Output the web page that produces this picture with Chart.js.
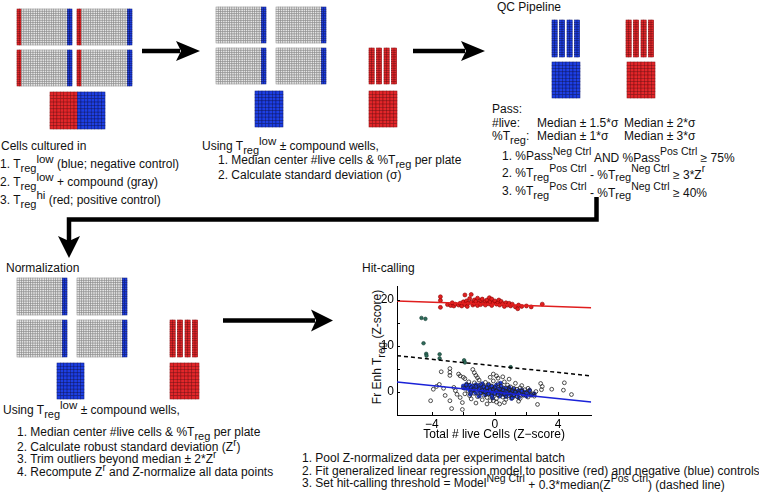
<!DOCTYPE html>
<html>
<head>
<meta charset="utf-8">
<script src="https://cdn.jsdelivr.net/npm/chart.js@4/dist/chart.umd.min.js"></script>
<style>
  body { margin: 0; background: #fff; }
  #wrap { position: relative; width: 759px; height: 493px; overflow: hidden; background: #fff;
          font-family: 'Liberation Sans', Arial, Helvetica, sans-serif; font-size: 12px; color: #111; }
  #diagram { position: absolute; left: 0; top: 0; }
  .t { position: absolute; white-space: nowrap; line-height: 14px; }
  .sb { position: relative; top: 4px; font-size: 11px; }
  .sp { position: relative; top: -5px; font-size: 11.5px; }
  .sc { position: relative; top: -5px; font-size: 10.5px; }
  .sr { position: relative; top: -5px; font-size: 10px; }
  .lo { position: relative; top: 2px; }
  #ytitle { position: absolute; left: 312px; top: 340px; width: 130px; text-align: center;
            transform: rotate(-90deg); white-space: nowrap; line-height: 14px; }
  #plot { position: absolute; left: 370px; top: 276px; width: 226px; height: 166px; }
</style>
</head>
<body>
<div id="wrap">
  <svg id="diagram" width="759" height="493"></svg>

  <!-- step 1 -->
  <div class="t" style="left:1px;top:139px">Cells cultured in</div>
  <div class="t" style="left:0px;top:157px">1. T<span class="sb">reg</span><span class="sp">low</span> (blue; negative control)</div>
  <div class="t" style="left:0px;top:175px">2. T<span class="sb">reg</span><span class="sp">low</span> + compound (gray)</div>
  <div class="t" style="left:0px;top:193px">3. T<span class="sb">reg</span><span class="sp">hi</span> (red; positive control)</div>

  <!-- step 2 -->
  <div class="t" style="left:202px;top:139px">Using T<span class="sb">reg</span><span class="sp">low</span> ± compound wells,</div>
  <div class="t" style="left:218px;top:153px">1. Median center #live cells &amp; %T<span class="sb">reg</span> per plate</div>
  <div class="t" style="left:218px;top:168px">2. Calculate standard deviation (σ)</div>

  <!-- QC -->
  <div class="t" style="left:497px;top:0px">QC Pipeline</div>
  <div class="t" style="left:492px;top:102px">Pass:</div>
  <div class="t" style="left:492px;top:116px">#live:</div>
  <div class="t" style="left:537px;top:116px">Median ± 1.5*σ</div>
  <div class="t" style="left:624px;top:116px">Median ± 2*σ</div>
  <div class="t" style="left:492px;top:129px">%T<span class="sb">reg</span>:</div>
  <div class="t" style="left:537px;top:129px">Median ± 1*σ</div>
  <div class="t" style="left:624px;top:129px">Median ± 3*σ</div>
  <div class="t" style="left:502px;top:149px">1. %Pass<span class="sc">Neg Ctrl</span> <span class="lo">AND %Pass</span><span class="sc">Pos Ctrl</span> <span class="lo">≥ 75%</span></div>
  <div class="t" style="left:502px;top:166px">2. %T<span class="sb">reg</span><span class="sc">Pos Ctrl</span> <span class="lo">- %T</span><span class="sb">reg</span><span class="sc">Neg Ctrl</span> <span class="lo">≥ 3*Z</span><span class="sr">r</span></div>
  <div class="t" style="left:502px;top:184px">3. %T<span class="sb">reg</span><span class="sc">Pos Ctrl</span> <span class="lo">- %T</span><span class="sb">reg</span><span class="sc">Neg Ctrl</span> <span class="lo">≥ 40%</span></div>

  <!-- normalization -->
  <div class="t" style="left:6px;top:261px">Normalization</div>
  <div class="t" style="left:3px;top:403px">Using T<span class="sb">reg</span><span class="sp">low</span> ± compound wells,</div>
  <div class="t" style="left:17px;top:425px">1. Median center #live cells &amp; %T<span class="sb">reg</span> per plate</div>
  <div class="t" style="left:17px;top:440px">2. Calculate robust standard deviation (Z<span class="sr">r</span>)</div>
  <div class="t" style="left:17px;top:452px">3. Trim outliers beyond median ± 2*Z<span class="sr">r</span></div>
  <div class="t" style="left:17px;top:465px">4. Recompute Z<span class="sr">r</span> and Z-normalize all data points</div>

  <!-- hit-calling -->
  <div class="t" style="left:362px;top:261px">Hit-calling</div>
  <div id="ytitle">Fr Enh T<span class="sb">reg</span> (Z-score)</div>
  <div id="plot"><canvas id="hitChart" width="226" height="166"></canvas></div>
  <div class="t" style="left:302px;top:451px">1. Pool Z-normalized data per experimental batch</div>
  <div class="t" style="left:302px;top:464px">2. Fit generalized linear regression model to positive (red) and negative (blue) controls</div>
  <div class="t" style="left:302px;top:476px">3. Set hit-calling threshold = Model<span class="sc">Neg Ctrl</span> <span class="lo">+ 0.3*median(Z</span><span class="sc">Pos Ctrl</span><span class="lo">) (dashed line)</span></div>
</div>

<script>
/* ── Hit-calling scatter data ─────────────────────────────────────────────── */

const xTicks = [-4, -2, 0, 2, 4];
const xLabelled = [-4, 0, 4];
const yTicks = [0, 5, 10, 15, 20];
const yLabelled = [0, 10, 20];

// regression / threshold lines, sampled at the two ends of the x range
const fitX = [-6.2, 6.1];
const posFitY = [19.8, 18.3];
const negFitY = [2.2, -2.2];
const thresholdY = [7.9, 3.5];

// positive controls (red)
const posCtrl = [
  [-3.45, 20.7], [-3.45, 19.9], [-3.45, 18.4], [-3.0, 19.0], [-2.8, 18.8], [-2.7, 19.4],
  [-2.6, 18.7], [-2.5, 19.1], [-2.3, 18.9], [-2.2, 19.3], [-2.1, 18.7], [-2.0, 19.6],
  [-1.9, 21.1], [-1.9, 19.0], [-1.8, 19.8], [-1.75, 18.6], [-1.7, 19.3], [-1.6, 20.3],
  [-1.5, 21.2], [-1.5, 19.5], [-1.4, 18.9], [-1.3, 20.0], [-1.3, 19.2], [-1.2, 19.7],
  [-1.1, 20.4], [-1.1, 18.8], [-1.0, 19.4], [-0.9, 19.9], [-0.9, 19.0], [-0.8, 20.2],
  [-0.7, 19.3], [-0.6, 19.7], [-0.6, 18.9], [-0.5, 20.0], [-0.4, 19.2], [-0.35, 20.5],
  [-0.3, 19.6], [-0.2, 20.2], [-0.2, 18.8], [-0.1, 19.4], [0.0, 19.8], [0.1, 19.1],
  [0.2, 19.5], [0.25, 20.0], [0.3, 18.9], [0.4, 19.7], [0.5, 19.2], [0.6, 18.6],
  [0.7, 19.4], [0.8, 18.9], [0.9, 19.3], [1.0, 18.7], [1.1, 19.1], [1.3, 18.5],
  [1.45, 18.1], [1.5, 18.9], [1.7, 18.6], [2.0, 18.7], [2.3, 18.5], [3.0, 19.1]
];

// compounds above the threshold (dark green)
const hits = [
  [-4.65, 16.1], [-4.4, 15.9], [-4.52, 10.6], [-4.35, 8.3], [-4.33, 7.9],
  [-3.5, 8.2], [-3.5, 7.3], [-1.95, 6.9], [-1.9, 6.4], [1.0, 5.4]
];

// negative controls (blue)
const negCtrl = [
  [-2.0, 1.3], [-1.9, 0.8], [-1.8, 1.7], [-1.7, 1.0], [-1.6, 0.4], [-1.6, 1.5], [-1.55, -0.5],
  [-1.5, 0.9], [-1.4, 1.3], [-1.4, 0.2], [-1.3, 0.7], [-1.2, 1.6], [-1.2, -0.2], [-1.1, 1.0],
  [-1.0, 0.4], [-1.0, 1.4], [-1.0, -0.9], [-0.9, -0.1], [-0.9, 0.9], [-0.8, 1.8], [-0.8, 0.5],
  [-0.7, 0.0], [-0.7, 1.2], [-0.6, 0.6], [-0.6, -0.6], [-0.5, 1.0], [-0.5, 0.2], [-0.4, 1.5],
  [-0.4, -0.3], [-0.3, 0.7], [-0.3, 0.1], [-0.2, 1.2], [-0.2, -0.7], [-0.15, -1.3], [-0.1, 0.4],
  [-0.1, -0.1], [0.0, 0.9], [0.0, -0.4], [0.1, 0.3], [0.1, 1.5], [0.2, -0.2], [0.2, 0.7],
  [0.3, 0.0], [0.3, -0.9], [0.35, 1.9], [0.4, 0.5], [0.4, 1.1], [0.5, -0.5], [0.5, 0.2],
  [0.6, 0.8], [0.6, -0.2], [0.7, 0.3], [0.7, -1.0], [0.8, 0.6], [0.8, -0.4], [0.9, 0.0],
  [0.9, 1.0], [1.0, -0.7], [1.0, 0.4], [1.05, -1.4], [1.1, -0.1], [1.2, 0.6], [1.2, -0.9],
  [1.3, 0.1], [1.4, -0.4], [1.5, 0.3], [1.5, -1.2], [1.6, -0.2], [1.7, 0.4], [1.8, -0.6],
  [1.9, 0.0], [2.0, -0.9], [2.1, -0.3], [2.2, 0.4], [2.3, -0.7], [2.5, -0.4]
];

// compound wells below the threshold (open black circles)
const compounds = [
  [-4.07, -1.9], [-3.9, 0.6], [-3.7, 1.2], [-3.52, 1.65], [-3.4, 4.4], [-3.25, 0.8], [-3.15, -0.75],
  [-2.85, -1.9], [-2.85, 5.1], [-2.85, 4.3], [-2.85, 3.6], [-2.74, -3.6], [-2.6, 1.0], [-2.5, 0.3],
  [-2.4, -0.5], [-2.3, 3.9], [-2.2, 3.5], [-2.2, -1.2], [-2.06, -3.8], [-2.06, -2.3], [-2.0, 3.2],
  [-2.0, 0.9], [-1.9, 2.9], [-1.9, -0.4], [-1.8, 1.5], [-1.7, 0.2], [-1.65, 2.2], [-1.6, -0.8],
  [-1.5, 1.0], [-1.5, -1.5], [-1.4, 4.9], [-1.4, 0.5], [-1.3, 4.2], [-1.3, 2.0], [-1.3, -0.3],
  [-1.2, 3.6], [-1.2, 1.2], [-1.2, -2.4], [-1.1, -1.0], [-1.1, 3.1], [-1.0, 0.7], [-1.0, 2.6],
  [-0.9, -0.2], [-0.9, 1.6], [-0.8, -1.7], [-0.8, 0.3], [-0.7, 1.1], [-0.7, -0.7], [-0.6, 2.1],
  [-0.6, 0.0], [-0.5, -1.2], [-0.5, 0.9], [-0.5, -2.6], [-0.4, 1.7], [-0.4, -0.4], [-0.3, 0.4],
  [-0.3, -1.9], [-0.3, 3.2], [-0.2, 1.3], [-0.2, -0.9], [-0.1, 0.6], [-0.1, 2.4], [-0.1, 3.9],
  [-0.1, -1.9], [0.0, -0.3], [0.0, 1.0], [0.1, -1.4], [0.1, 0.2], [0.1, 3.5], [0.1, -2.2],
  [0.2, 1.8], [0.2, -0.6], [0.2, 3.0], [0.3, 0.7], [0.3, -2.6], [0.4, -0.1], [0.4, 1.3],
  [0.5, -1.1], [0.5, 0.4], [0.5, 3.3], [0.6, 2.2], [0.6, -0.5], [0.6, -2.3], [0.7, 0.9],
  [0.7, -1.6], [0.8, 0.1], [0.8, 1.5], [0.9, -0.8], [0.9, 0.5], [0.9, 2.8], [1.0, -0.2],
  [1.0, 1.1], [1.1, -1.3], [1.1, 0.3], [1.2, 0.8], [1.2, -0.6], [1.3, 1.9], [1.3, 0.0],
  [1.4, -1.0], [1.4, 0.6], [1.5, -0.3], [1.5, -2.0], [1.6, 0.9], [1.6, -1.4], [1.7, 0.2],
  [1.7, 1.4], [1.8, -0.7], [1.9, 0.5], [2.0, -0.2], [2.1, -1.1], [2.1, 0.8], [2.2, 0.3],
  [2.3, -0.55], [2.4, -0.4], [2.5, -0.9], [2.6, 0.1], [2.7, -2.7], [2.9, 1.85], [2.95, 0.5],
  [3.0, 1.2], [3.6, 0.6], [4.34, 0.4], [4.4, 2.0], [4.85, -0.55]
];

/* ── Flow diagram: plates and arrows (SVG) ───────────────────────────────── */

const PAL = {
  g: { fill: '#e6e6e6', line: '#8e8e8e' },
  r: { fill: '#e3262a', line: '#8a1012' },
  b: { fill: '#1d3fe4', line: '#0c1a78' }
};

function plate(x, y, w, h, cols, rows, colourOf) {
  const cw = w / cols, rh = h / rows;
  let s = '';
  for (let c = 0; c < cols; c++) {
    const p = PAL[colourOf(c)];
    for (let r = 0; r < rows; r++) {
      s += `<rect x="${(x + c * cw).toFixed(2)}" y="${(y + r * rh).toFixed(2)}" width="${cw.toFixed(2)}" height="${rh.toFixed(2)}" fill="${p.fill}" stroke="${p.line}" stroke-width="0.55"/>`;
    }
  }
  return s;
}

// four control strips (2 columns x 16 rows each)
function strips(x, y, h, col) {
  let s = '';
  for (let i = 0; i < 4; i++) s += plate(x + i * 7.5, y, 5.2, h, 2, 16, () => col);
  return s;
}

function arrowRight(x1, x2, y, len, hh) {
  return `<line x1="${x1}" y1="${y}" x2="${x2 - len + 4}" y2="${y}" stroke="#000" stroke-width="4.5"/>` +
    `<polygon points="${x2},${y} ${x2 - len},${y - hh} ${x2 - len + 5},${y} ${x2 - len},${y + hh}" fill="#000"/>`;
}

const full384 = c => (c < 2 ? 'r' : c > 21 ? 'b' : 'g');
const noPos = c => (c > 19 ? 'b' : 'g');

let svg = '';
// step 1
svg += plate(17, 9, 55, 36, 24, 16, full384) + plate(77, 9, 55, 36, 24, 16, full384);
svg += plate(17, 50, 55, 36, 24, 16, full384) + plate(77, 50, 55, 36, 24, 16, full384);
svg += plate(50, 92, 55, 37, 16, 11, c => (c < 8 ? 'r' : 'b'));
// step 2
svg += plate(216, 7, 50, 36, 22, 16, noPos) + plate(276, 7, 50, 36, 22, 16, noPos);
svg += plate(216, 48, 50, 36, 22, 16, noPos) + plate(276, 48, 50, 36, 22, 16, noPos);
svg += plate(255, 91, 28, 36, 8, 11, () => 'b');
svg += strips(369, 48, 36, 'r');
svg += plate(369, 91, 28, 36, 8, 11, () => 'r');
// QC
svg += strips(552, 20, 37, 'b') + plate(552, 62, 28, 36, 8, 11, () => 'b');
svg += strips(626, 20, 37, 'r') + plate(627, 62, 28, 36, 8, 11, () => 'r');
// normalization
svg += plate(17, 278, 50, 37, 22, 16, noPos) + plate(77, 278, 50, 37, 22, 16, noPos);
svg += plate(17, 320, 50, 37, 22, 16, noPos) + plate(77, 320, 50, 37, 22, 16, noPos);
svg += plate(57, 363, 27, 36, 8, 11, () => 'b');
svg += strips(170, 320, 37, 'r');
svg += plate(170, 363, 29, 36, 8, 11, () => 'r');
// arrows
svg += arrowRight(142, 200, 51, 24, 10);
svg += arrowRight(413, 485, 51, 24, 10);
svg += arrowRight(223, 333, 320.5, 22, 11);
// connector from QC back to normalization
svg += '<polyline points="596.5,197 596.5,219.5 69,219.5 69,242" fill="none" stroke="#000" stroke-width="4.5"/>';
svg += '<polygon points="69,258 58,236 69,241 80,236" fill="#000"/>';
document.getElementById('diagram').innerHTML = svg;

/* ── Hit-calling chart ───────────────────────────────────────────────────── */

const toPts = arr => arr.map(p => ({ x: p[0], y: p[1] }));
const linePts = ys => fitX.map((x, i) => ({ x, y: ys[i] }));
const minus = v => (v < 0 ? '\u2212' + Math.abs(v) : String(v));

// MATLAB-style ticks pointing into the plot
const inwardTicks = {
  id: 'inwardTicks',
  afterDraw(chart) {
    const { ctx, chartArea: a, scales: { x, y } } = chart;
    ctx.save();
    ctx.strokeStyle = '#000';
    ctx.lineWidth = 1;
    ctx.beginPath();
    x.ticks.forEach(t => {
      const px = Math.round(x.getPixelForValue(t.value)) + 0.5;
      ctx.moveTo(px, a.bottom); ctx.lineTo(px, a.bottom - 3);
    });
    y.ticks.forEach(t => {
      const py = Math.round(y.getPixelForValue(t.value)) + 0.5;
      ctx.moveTo(a.left, py); ctx.lineTo(a.left + 3, py);
    });
    ctx.stroke();
    ctx.restore();
  }
};

const FONT = { family: "'Liberation Sans', Arial, sans-serif", size: 12 };

new Chart(document.getElementById('hitChart'), {
  type: 'scatter',
  data: {
    datasets: [
      { type: 'line', data: linePts(thresholdY), borderColor: '#000', borderWidth: 1.5, borderDash: [4, 3], pointRadius: 0 },
      { type: 'line', data: linePts(negFitY), borderColor: '#1a22d8', borderWidth: 1.5, pointRadius: 0 },
      { type: 'line', data: linePts(posFitY), borderColor: '#e01e1e', borderWidth: 1.5, pointRadius: 0 },
      { data: toPts(compounds), pointRadius: 1.9, borderWidth: 0.8, borderColor: '#222', backgroundColor: 'rgba(255,255,255,0)' },
      { data: toPts(negCtrl), pointRadius: 2, borderWidth: 0.6, borderColor: '#0b1a99', backgroundColor: '#2040e8' },
      { data: toPts(hits), pointRadius: 1.8, borderWidth: 0.6, borderColor: '#123a30', backgroundColor: '#2f6b5a' },
      { data: toPts(posCtrl), pointRadius: 2, borderWidth: 0.6, borderColor: '#8a0000', backgroundColor: '#e32020' }
    ]
  },
  options: {
    responsive: false,
    animation: false,
    events: [],
    layout: { padding: { left: 0, right: 4, top: 3, bottom: 0 } },
    plugins: { legend: { display: false }, tooltip: { enabled: false } },
    scales: {
      x: {
        type: 'linear', min: -6.2, max: 6.1,
        grid: { display: false, drawTicks: false },
        border: { display: true, color: '#000', width: 1 },
        afterBuildTicks: s => { s.ticks = xTicks.map(v => ({ value: v })); },
        afterFit: s => { s.height = 27; },
        ticks: { color: '#000', font: FONT, padding: 2, maxRotation: 0,
                 callback: v => (xLabelled.includes(v) ? minus(v) : '') },
        title: { display: true, text: 'Total # live Cells (Z\u2212score)', color: '#000', font: FONT, padding: 0 }
      },
      y: {
        type: 'linear', min: -5, max: 23,
        grid: { display: false, drawTicks: false },
        border: { display: true, color: '#000', width: 1 },
        afterBuildTicks: s => { s.ticks = yTicks.map(v => ({ value: v })); },
        afterFit: s => { s.width = 27; },
        ticks: { color: '#000', font: FONT, padding: 3,
                 callback: v => (yLabelled.includes(v) ? String(v) : '') }
      }
    }
  },
  plugins: [inwardTicks]
});
</script>
</body>
</html>
